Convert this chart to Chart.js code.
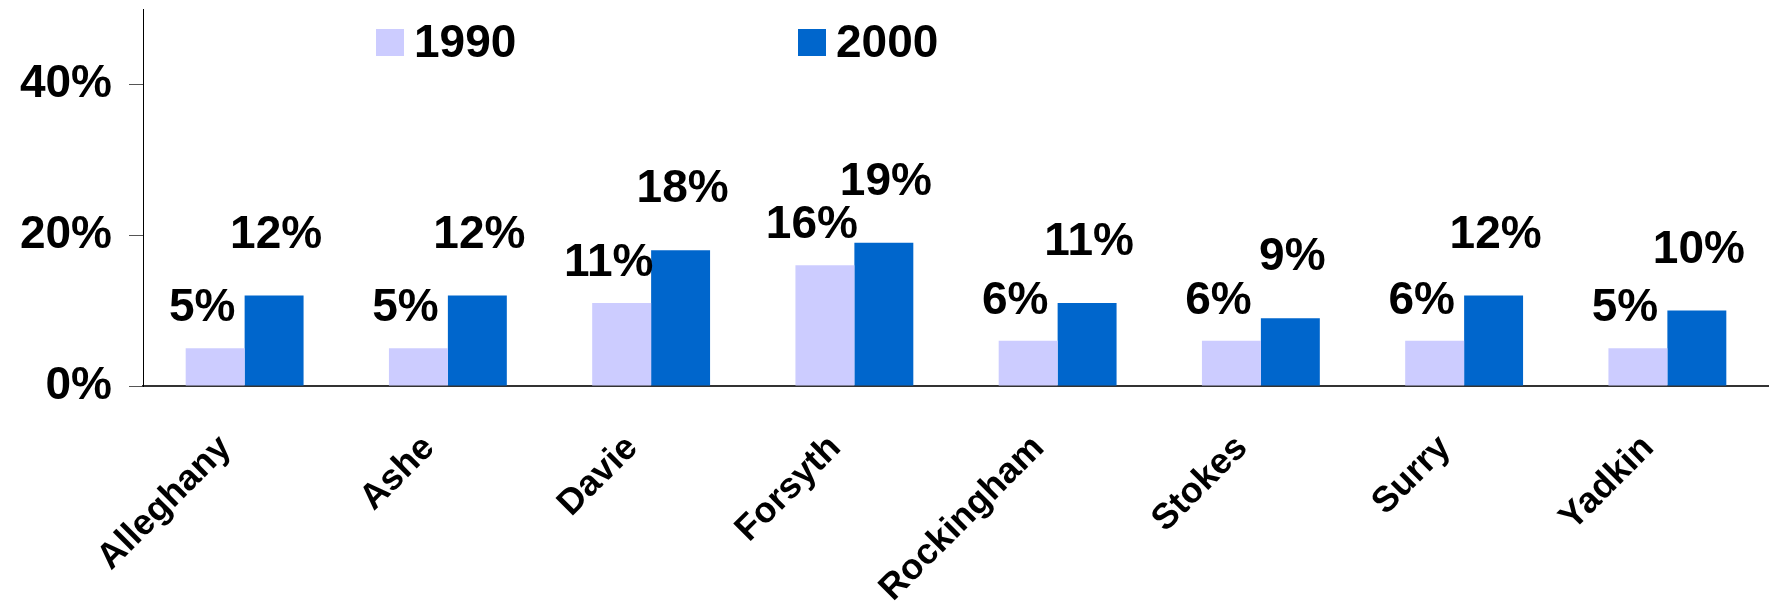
<!DOCTYPE html>
<html>
<head>
<meta charset="utf-8">
<script src="https://cdn.jsdelivr.net/npm/chart.js@4.4.0/dist/chart.umd.min.js"></script>
<style>
  html, body { margin: 0; padding: 0; background: #fff; }
  #wrap { width: 1769px; height: 603px; }
</style>
</head>
<body>
<div id="wrap"><canvas id="countyChart" width="1769" height="603"></canvas></div>
<script>
// chart data
const counties = ["Alleghany", "Ashe", "Davie", "Forsyth", "Rockingham", "Stokes", "Surry", "Yadkin"];
const seriesNames = ["1990", "2000"];
const values1990 = [5, 5, 11, 16, 6, 6, 6, 5];
const values2000 = [12, 12, 18, 19, 11, 9, 12, 10];
const yTickValues = [0, 20, 40];

const FONT = '"Liberation Sans", Arial, sans-serif';
const colors = ["#CCCCFF", "#0066CC"];

// value labels above the bars (offset a little like the original)
const barLabels = {
  id: "barLabels",
  afterDatasetsDraw(chart) {
    const ctx = chart.ctx;
    ctx.save();
    ctx.font = "bold 46px " + FONT;
    ctx.fillStyle = "#000";
    ctx.textAlign = "center";
    ctx.textBaseline = "alphabetic";
    chart.data.datasets.forEach((ds, i) => {
      const meta = chart.getDatasetMeta(i);
      const dx = i === 0 ? -13 : 2;
      const lift = i === 0 ? 27 : 48;
      meta.data.forEach((bar, j) => {
        ctx.fillText(ds.data[j] + "%", bar.x + dx, bar.y - lift);
      });
    });
    ctx.restore();
  }
};

// legend sits inside the plot, two items far apart
const plotLegend = {
  id: "plotLegend",
  afterDraw(chart) {
    const ctx = chart.ctx;
    const boxX = [376, 798];
    ctx.save();
    ctx.font = "bold 46px " + FONT;
    ctx.textBaseline = "middle";
    ctx.textAlign = "left";
    chart.data.datasets.forEach((ds, i) => {
      ctx.fillStyle = ds.backgroundColor;
      ctx.fillRect(boxX[i], 29, 28, 27);
      ctx.fillStyle = "#000";
      ctx.fillText(ds.label, boxX[i] + 38, 44);
    });
    ctx.restore();
  }
};

const ctx = document.getElementById("countyChart").getContext("2d");

const chart = new Chart(ctx, {
  type: "bar",
  data: {
    labels: counties,
    datasets: [
      { label: seriesNames[0], data: values1990, backgroundColor: colors[0] },
      { label: seriesNames[1], data: values2000, backgroundColor: colors[1] }
    ]
  },
  options: {
    responsive: false,
    animation: false,
    layout: { padding: { top: 9, right: 0, bottom: 0, left: 0 } },
    datasets: {
      bar: { categoryPercentage: 0.58, barPercentage: 1.0 }
    },
    scales: {
      x: {
        grid: { display: false },
        border: { display: true, color: "#333", width: 2 },
        ticks: {
          color: "#000",
          font: { family: FONT, size: 36, weight: "bold" },
          minRotation: 45,
          maxRotation: 45,
          padding: 33,
          labelOffset: -19
        },
        afterFit(scale) { scale.height = 217; }
      },
      y: {
        min: 0,
        max: 50,
        grid: { drawOnChartArea: false, drawTicks: true, tickLength: 14, color: "#555" },
        border: { display: true, color: "#000", width: 1 },
        ticks: {
          color: "#000",
          font: { family: FONT, size: 46, weight: "bold" },
          padding: 17,
          callback: (v) => v + "%"
        },
        afterBuildTicks(scale) {
          scale.ticks = yTickValues.map(v => ({ value: v }));
        },
        afterFit(scale) {
          scale.width = 143;
          scale.paddingTop = 0;
          scale.paddingBottom = 0;
        }
      }
    },
    plugins: {
      legend: { display: false },
      tooltip: { enabled: false }
    }
  },
  plugins: [barLabels, plotLegend]
});
</script>
</body>
</html>
